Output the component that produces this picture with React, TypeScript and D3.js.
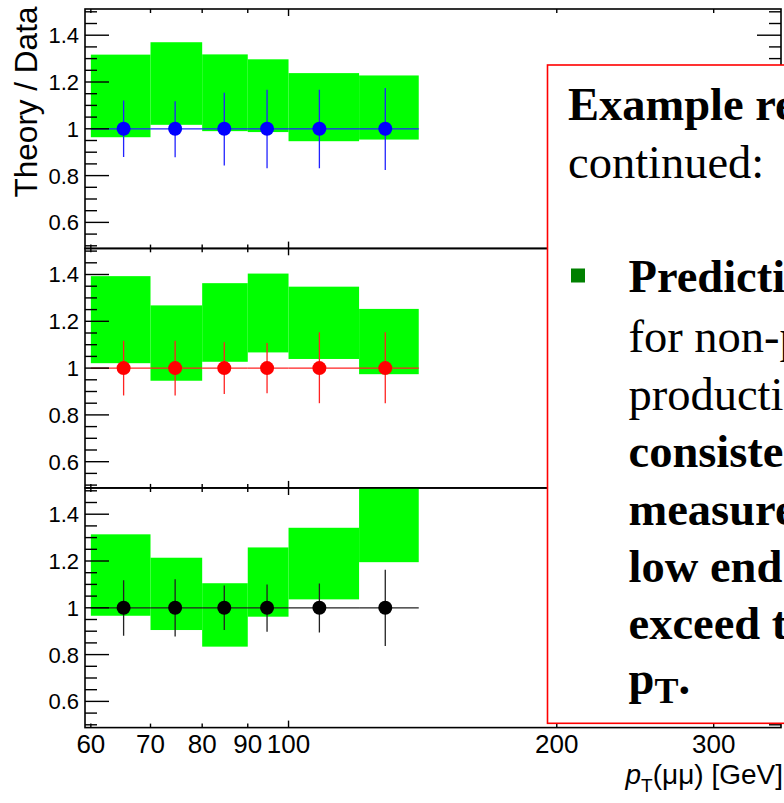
import React from "react";
import * as d3 from "d3";

// ---------- data ----------
const binEdges = [60, 70, 80, 90, 100, 120, 140];
const pointX = [65.3, 74.6, 84.7, 94.6, 108.3, 128.4];
const ratio = [1, 1, 1, 1, 1, 1];

const bandLo1 = [0.964, 1.017, 0.99, 0.986, 0.947, 0.954];
const bandHi1 = [1.317, 1.37, 1.318, 1.297, 1.238, 1.228];
const errLo1 = [0.879, 0.878, 0.843, 0.831, 0.831, 0.824];
const errHi1 = [1.121, 1.118, 1.154, 1.167, 1.167, 1.174];

const bandLo2 = [1.021, 0.946, 1.027, 1.067, 1.039, 0.974];
const bandHi2 = [1.393, 1.268, 1.363, 1.404, 1.348, 1.253];
const errLo2 = [0.883, 0.883, 0.889, 0.893, 0.85, 0.85];
const errHi2 = [1.117, 1.117, 1.111, 1.107, 1.153, 1.153];

const bandLo3 = [0.966, 0.905, 0.834, 0.962, 1.036, 1.195];
const bandHi3 = [1.314, 1.214, 1.105, 1.258, 1.342, 1.6];
const errLo3 = [0.881, 0.877, 0.905, 0.898, 0.894, 0.837];
const errHi3 = [1.118, 1.122, 1.095, 1.1, 1.104, 1.163];

const yTickLabels = [0.6, 0.8, 1, 1.2, 1.4];
const xTickLabels = [60, 70, 80, 90, 100, 200, 300];
const xMajorTicks = [100];
const xMinorTicks = [60, 70, 80, 90, 200, 300];

const boxLines = [
  { text: "Example results", bold: true, indent: false },
  { text: "continued:", bold: false, indent: false },
  { text: "", bold: false, indent: false },
  { text: "Predictions", bold: true, indent: true },
  { text: "for non-prompt", bold: false, indent: true },
  { text: "production are", bold: false, indent: true },
  { text: "consistent with", bold: true, indent: true },
  { text: "measurements at the", bold: true, indent: true },
  { text: "low end but", bold: true, indent: true },
  { text: "exceed the data at high", bold: true, indent: true },
];

// ---------- layout ----------
const W = 784;
const H = 803;
const X0 = 85;
const X1 = 781;
const panelTops = [9, 248.3, 488];
const panelH = 239.6;
const yDomain = [0.488, 1.512];
const SANS = "'Liberation Sans', Arial, Helvetica, sans-serif";
const SERIF = "'Liberation Serif', 'Times New Roman', serif";

const xScale = d3.scaleLog().domain([59.1, 357]).range([X0, X1]);

const panels = [
  { lo: bandLo1, hi: bandHi1, eLo: errLo1, eHi: errHi1, color: "#0000ff", line: "#2222ff" },
  { lo: bandLo2, hi: bandHi2, eLo: errLo2, eHi: errHi2, color: "#ff0000", line: "#ff2222" },
  { lo: bandLo3, hi: bandHi3, eLo: errLo3, eHi: errHi3, color: "#000000", line: "#222222" },
];

function Panel({ idx }: { idx: number }) {
  const p = panels[idx];
  const top = panelTops[idx];
  const bottom = top + panelH;
  const y = d3.scaleLinear().domain(yDomain).range([bottom, top]);
  const minorY = d3.range(0.5, 1.5001, 0.05).filter((v) => v > yDomain[0] && v < yDomain[1]);
  const clipId = `clip${idx}`;
  return (
    <g>
      <defs>
        <clipPath id={clipId}>
          <rect x={X0} y={top} width={X1 - X0} height={panelH} />
        </clipPath>
      </defs>
      <g clipPath={`url(#${clipId})`}>
        {p.lo.map((lo, i) => (
          <rect
            key={"b" + i}
            x={xScale(binEdges[i])}
            width={xScale(binEdges[i + 1]) - xScale(binEdges[i])}
            y={y(p.hi[i])}
            height={y(lo) - y(p.hi[i])}
            fill="#00ff00"
          />
        ))}
        {ratio.map((r, i) => (
          <g key={"p" + i}>
            <line
              x1={xScale(binEdges[i])}
              x2={xScale(binEdges[i + 1])}
              y1={y(r)}
              y2={y(r)}
              stroke={p.line}
              strokeWidth={1.3}
            />
            <line
              x1={xScale(pointX[i])}
              x2={xScale(pointX[i])}
              y1={y(p.eHi[i])}
              y2={y(p.eLo[i])}
              stroke={p.line}
              strokeWidth={1.3}
            />
            <circle cx={xScale(pointX[i])} cy={y(r)} r={7} fill={p.color} />
          </g>
        ))}
      </g>
      {minorY.map((v, i) => {
        const major = Math.abs(v * 10 - Math.round(v * 10)) < 1e-6 && Math.round(v * 10) % 2 === 0;
        const len = major ? 24 : 12;
        return (
          <g key={"yt" + i}>
            <line x1={X0} x2={X0 + len} y1={y(v)} y2={y(v)} stroke="#000" strokeWidth={1.4} />
            <line x1={X1} x2={X1 - len} y1={y(v)} y2={y(v)} stroke="#000" strokeWidth={1.4} />
          </g>
        );
      })}
      {xMajorTicks.concat(xMinorTicks).map((v, i) => {
        const len = xMajorTicks.includes(v) ? 7 : 4;
        return (
          <g key={"xt" + i}>
            <line x1={xScale(v)} x2={xScale(v)} y1={top} y2={top + len} stroke="#000" strokeWidth={1.4} />
            <line x1={xScale(v)} x2={xScale(v)} y1={bottom} y2={bottom - len} stroke="#000" strokeWidth={1.4} />
          </g>
        );
      })}
      <rect x={X0} y={top} width={X1 - X0} height={panelH} fill="none" stroke="#000" strokeWidth={1.6} />
      {yTickLabels.map((v) => (
        <text
          key={"yl" + v}
          x={79}
          y={y(v)}
          dy="0.36em"
          textAnchor="end"
          fontFamily={SANS}
          fontSize={22}
          fill="#000"
        >
          {String(v)}
        </text>
      ))}
    </g>
  );
}

export default function App() {
  const bottomY = panelTops[2] + panelH;
  const boxX = 547.5;
  const boxY = 65;
  const boxBottom = 723.3;
  const lineBase = [120, 178, 236, 292, 351.5, 409.5, 467, 525, 582, 639];
  return (
    <svg
      width={W}
      height={H}
      viewBox={`0 0 ${W} ${H}`}
      style={{ position: "absolute", left: 0, top: 0, background: "#fff" }}
    >
      <rect x={0} y={0} width={W} height={H} fill="#fff" />
      {panels.map((_, i) => (
        <Panel key={i} idx={i} />
      ))}
      {xTickLabels.map((v) => (
        <text
          key={"xl" + v}
          x={xScale(v)}
          y={bottomY + 25}
          textAnchor="middle"
          fontFamily={SANS}
          fontSize={26}
          fill="#000"
        >
          {String(v)}
        </text>
      ))}
      <text
        transform={`translate(37,102) rotate(-90)`}
        textAnchor="middle"
        fontFamily={SANS}
        fontSize={31.5}
        fill="#000"
      >
        Theory / Data
      </text>
      <text x={783} y={784} textAnchor="end" fontFamily={SANS} fontSize={28} fill="#000">
        <tspan fontStyle="italic">p</tspan>
        <tspan dy={8} fontSize={19}>T</tspan>
        <tspan dy={-8}>(μμ) [GeV]</tspan>
      </text>

      <rect
        x={boxX}
        y={boxY}
        width={W - boxX + 20}
        height={boxBottom - boxY}
        fill="#fff"
        stroke="#ff0000"
        strokeWidth={1.6}
      />
      {boxLines.map((l, i) =>
        l.text ? (
          <text
            key={"bl" + i}
            x={l.indent ? 628.5 : 568}
            y={lineBase[i]}
            fontFamily={SERIF}
            fontSize={46.5}
            fontWeight={l.bold ? "bold" : "normal"}
            fill="#000"
          >
            {l.text}
          </text>
        ) : null
      )}
      <rect x={571} y={268.5} width={14} height={14} fill="#008000" />
      <text x={628.5} y={694} fontFamily={SERIF} fontSize={46.5} fontWeight="bold" fill="#000">
        p
        <tspan dy={9} fontSize={36}>T</tspan>
        <tspan dy={-9}>.</tspan>
      </text>
    </svg>
  );
}
